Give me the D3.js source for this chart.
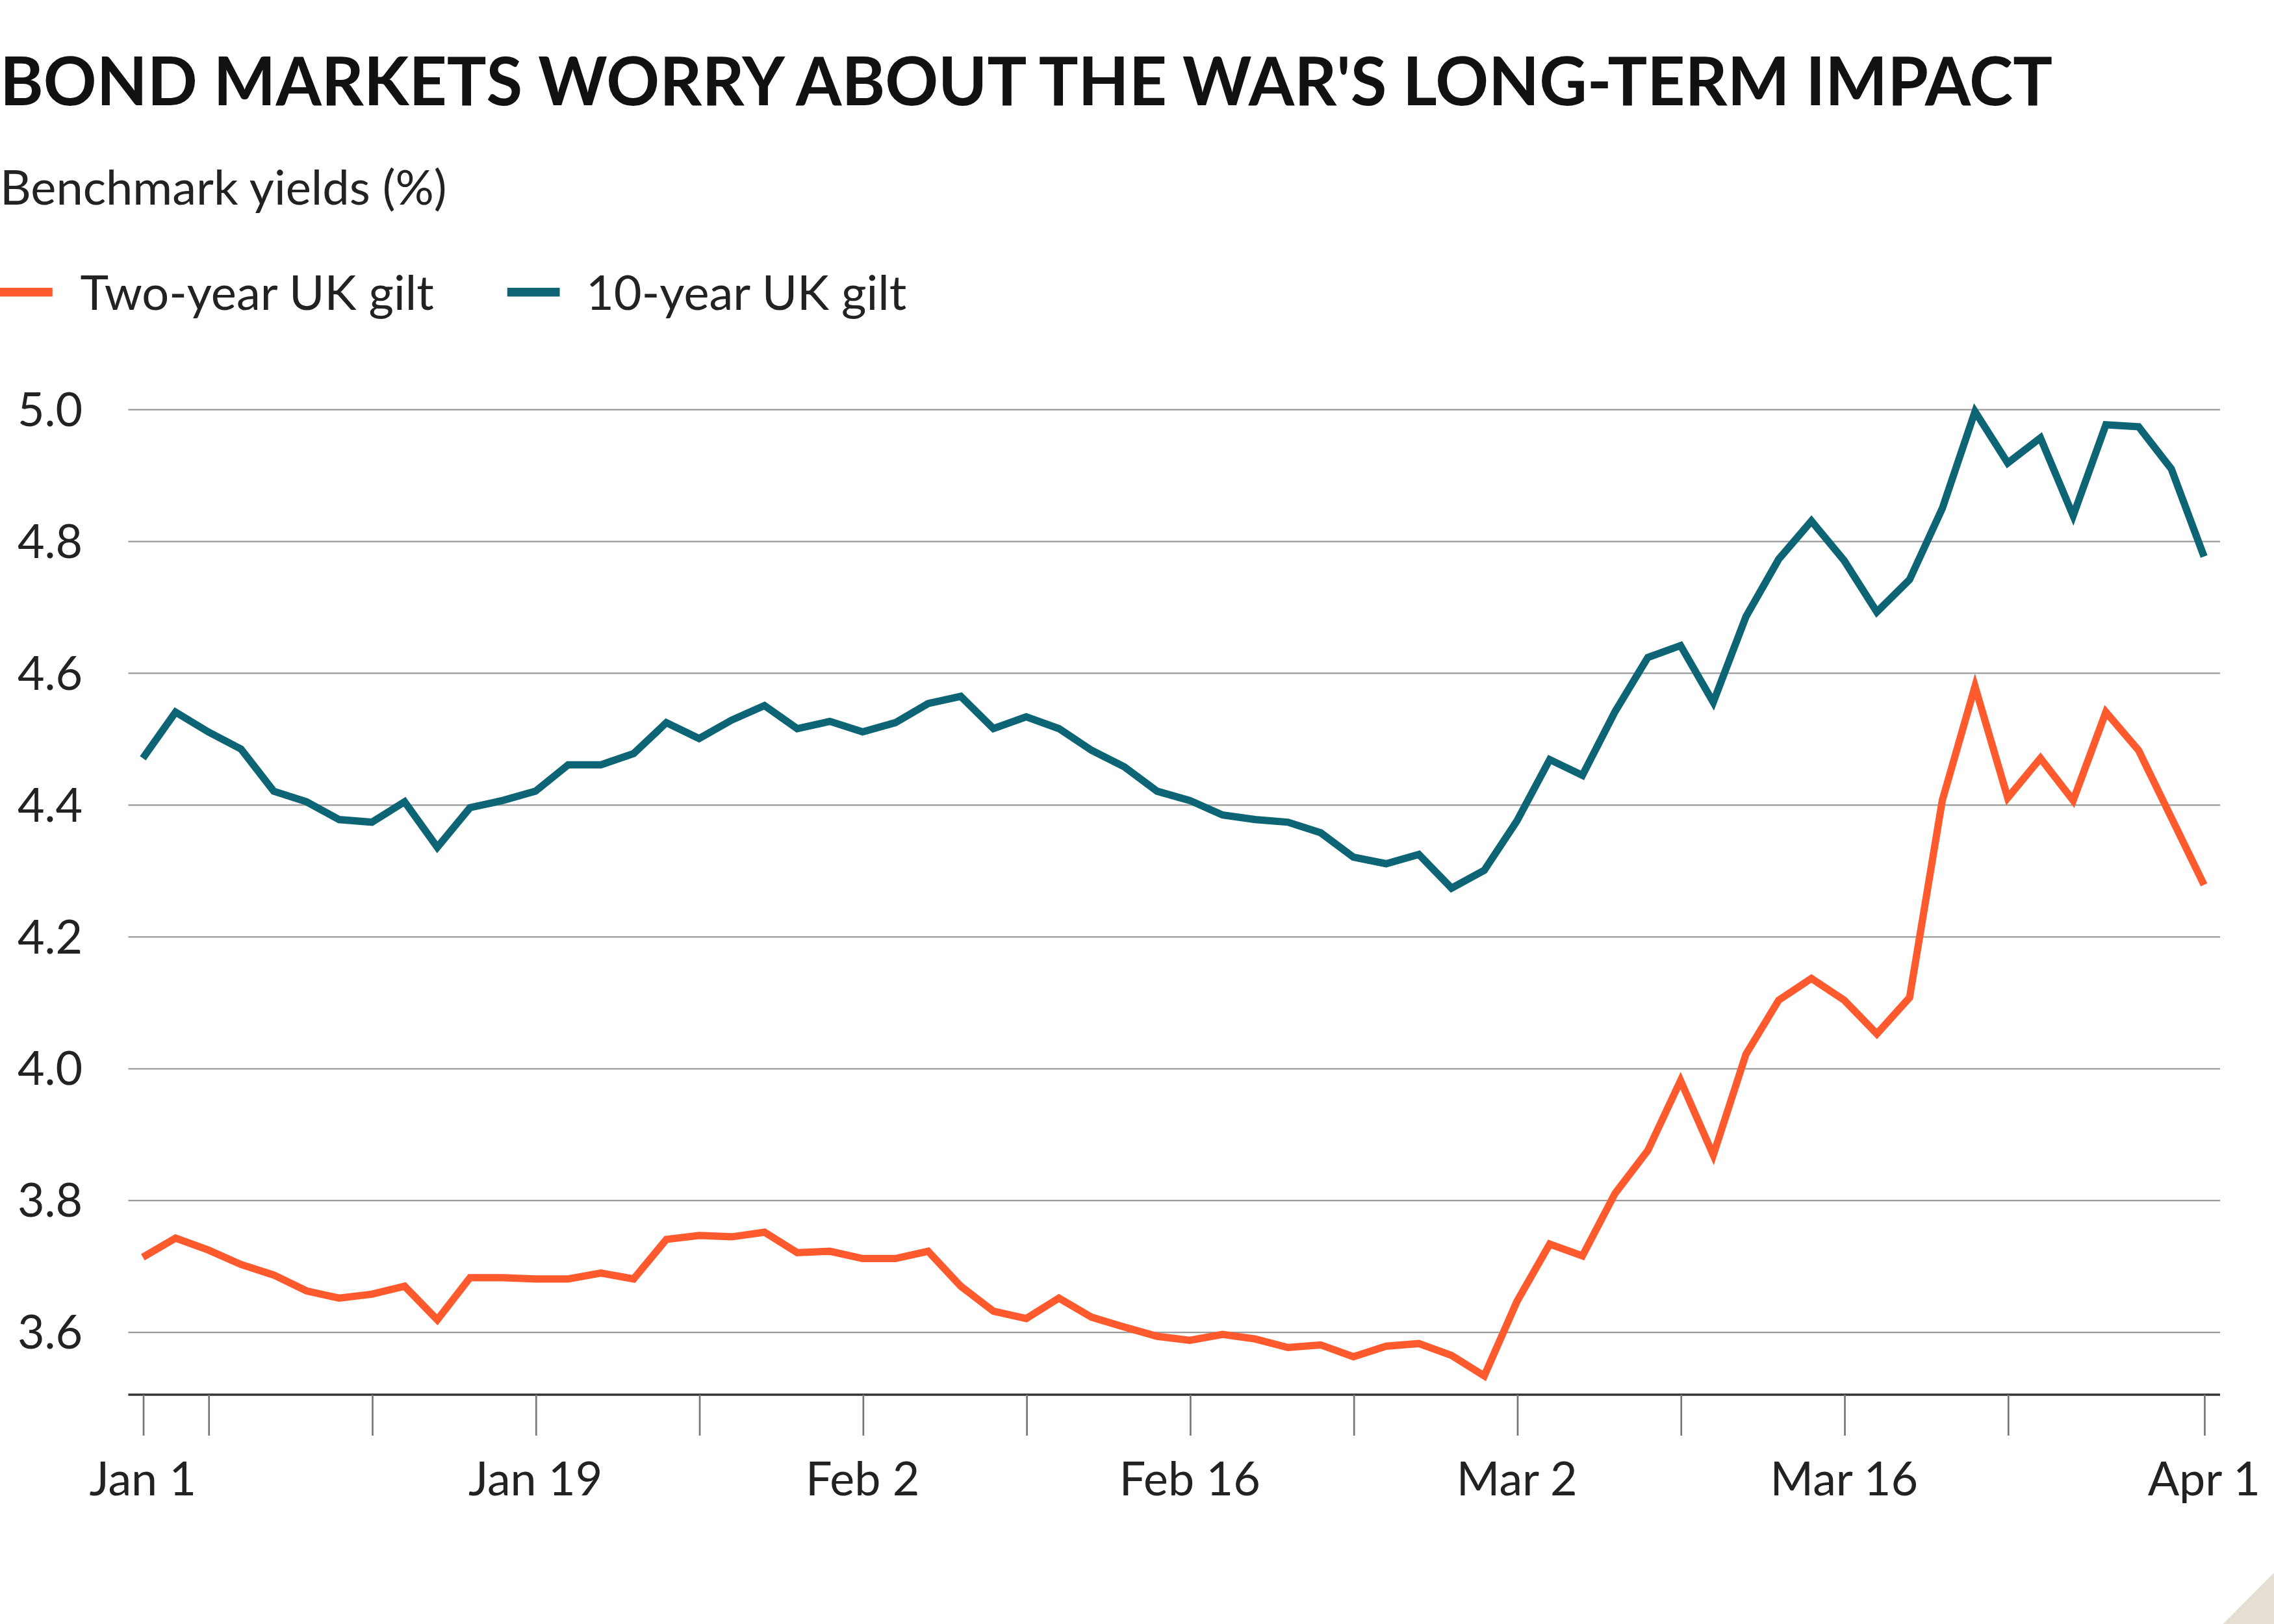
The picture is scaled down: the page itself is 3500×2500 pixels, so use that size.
<!DOCTYPE html>
<html><head><meta charset="utf-8">
<script src="https://cdn.jsdelivr.net/npm/d3@7"></script>
<style>html,body{margin:0;padding:0;background:#fff;}</style>
</head><body>
<script>
const dateLabels = ["Jan 1","Jan 19","Feb 2","Feb 16","Mar 2","Mar 16","Apr 1"];
const labelIdx = [0,12,22,32,42,52,63];
const tickIdx = [0,2,7,12,17,22,27,32,37,42,47,52,57,63];
const yTicks = [3.6,3.8,4.0,4.2,4.4,4.6,4.8,5.0];
const tenYear = [4.47,4.54,4.51,4.484,4.42,4.404,4.377,4.373,4.404,4.335,4.395,4.406,4.42,4.46,4.46,4.477,4.524,4.50,4.528,4.55,4.515,4.526,4.51,4.524,4.553,4.564,4.515,4.533,4.515,4.482,4.457,4.42,4.406,4.384,4.377,4.373,4.357,4.32,4.31,4.324,4.273,4.30,4.375,4.468,4.444,4.541,4.623,4.641,4.555,4.685,4.772,4.83,4.77,4.692,4.741,4.849,4.996,4.918,4.956,4.838,4.976,4.973,4.909,4.776];
const twoYear = [3.713,3.742,3.724,3.702,3.686,3.662,3.651,3.657,3.669,3.618,3.682,3.682,3.68,3.68,3.689,3.68,3.74,3.746,3.744,3.751,3.72,3.722,3.711,3.711,3.722,3.669,3.631,3.62,3.651,3.622,3.607,3.593,3.587,3.596,3.589,3.576,3.58,3.562,3.578,3.582,3.564,3.533,3.646,3.733,3.715,3.81,3.875,3.981,3.868,4.021,4.103,4.136,4.103,4.052,4.107,4.406,4.579,4.41,4.47,4.406,4.54,4.482,4.38,4.278];
const seriesNames = ["Two-year UK gilt","10-year UK gilt"];
const colors = ["#ff5a2e","#0c6475"];

const W=1560,H=1112;
const svg=d3.select("body").append("svg").attr("width",3500).attr("height",2500)
 .attr("viewBox",`0 0 ${W} ${H}`).attr("preserveAspectRatio","none")
 .style("font-family","Lato, 'Open Sans', sans-serif");
svg.append("rect").attr("width",W).attr("height",H).attr("fill","#fff");

svg.append("text").attr("x",0).attr("y",72).attr("font-size",46).attr("font-weight",700)
 .attr("fill","#111").attr("textLength",1408).attr("lengthAdjust","spacingAndGlyphs")
 .text("BOND MARKETS WORRY ABOUT THE WAR'S LONG-TERM IMPACT");
svg.append("text").attr("x",0).attr("y",140).attr("font-size",33).attr("fill","#222").text("Benchmark yields (%)");

const leg=[{x:0,tx:55},{x:348,tx:402}];
seriesNames.forEach((n,i)=>{
 svg.append("line").attr("x1",leg[i].x).attr("x2",leg[i].x+36).attr("y1",200).attr("y2",200).attr("stroke",colors[i]).attr("stroke-width",6);
 svg.append("text").attr("x",leg[i].tx).attr("y",212).attr("font-size",33).attr("fill","#222").text(n);
});

const x=d3.scaleLinear().domain([0,63]).range([98,1512]);
const y=d3.scaleLinear().domain([3.5,5.0]).range([957,280]);

const gy=svg.append("g").attr("transform","translate(1523,0)").call(d3.axisLeft(y).tickValues(yTicks).tickSize(1435).tickFormat(d3.format(".1f")));
gy.select(".domain").remove();
gy.selectAll(".tick line").attr("stroke","#999").attr("stroke-width",1);
gy.selectAll(".tick text").attr("x",-1435-76).attr("text-anchor","start").attr("dy","0.35em").attr("font-size",32).attr("fill","#222").attr("font-family","Lato, sans-serif");

svg.append("line").attr("x1",88).attr("x2",1523).attr("y1",955).attr("y2",955).attr("stroke","#333").attr("stroke-width",1.5);
const gx=svg.append("g").attr("transform","translate(0,955)").call(d3.axisBottom(x).tickValues(tickIdx).tickSize(28).tickFormat(()=>""));
gx.select(".domain").remove();
gx.selectAll(".tick line").attr("stroke","#777").attr("stroke-width",1.2);
labelIdx.forEach((v,i)=>{
 svg.append("text").attr("x",x(v)).attr("y",1024).attr("text-anchor","middle").attr("font-size",32).attr("fill","#222").text(dateLabels[i]);
});

const line=d3.line().x((d,i)=>x(i)).y(d=>y(d));
[twoYear,tenYear].forEach((s,i)=>{
 svg.append("path").datum(s).attr("d",line).attr("fill","none").attr("stroke",colors[i]).attr("stroke-width",5).attr("stroke-linejoin","miter");
});

svg.append("path").attr("d",`M${W} ${H-35} L${W} ${H} L${W-35} ${H} Z`).attr("fill","#e6ddd3");
</script>
</body></html>
